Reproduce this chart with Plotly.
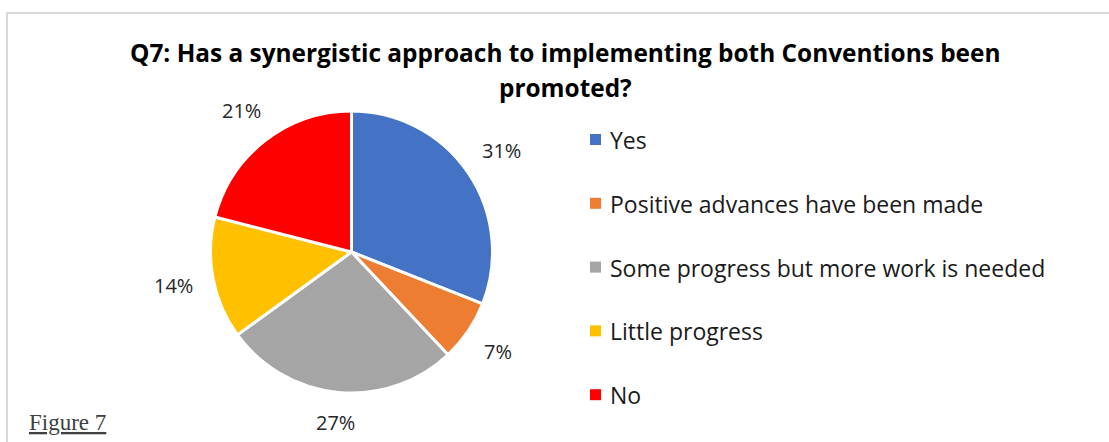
import math
import plotly.graph_objects as go

# Survey responses (percent of respondents)
categories = [
    "Yes",
    "Positive advances have been made",
    "Some progress but more work is needed",
    "Little progress",
    "No",
]
shares = [31, 7, 27, 14, 21]
colors = ["#4472C4", "#ED7D31", "#A5A5A5", "#FFC000", "#FF0000"]
title_lines = [
    "Q7: Has a synergistic approach to implementing both Conventions been",
    "promoted?",
]

W, H = 1109, 442
FONT = "Open Sans, Lato, sans-serif"
LABEL_SIZE = 20

# Pie placement (pixels)
cx, cy, r = 351.5, 252.0, 141.0
dom_x = [(cx - r) / W, (cx + r) / W]
dom_y = [(H - (cy + r)) / H, (H - (cy - r)) / H]

fig = go.Figure()
fig.add_trace(go.Pie(
    labels=categories,
    values=shares,
    sort=False,
    direction="clockwise",
    rotation=0,
    marker=dict(colors=colors, line=dict(color="white", width=3)),
    textinfo="none",
    hoverinfo="label+percent",
    domain=dict(x=dom_x, y=dom_y),
    showlegend=False,
))


def text_half_extent(txt, size):
    # rough glyph widths for digits and the percent sign
    w = sum(0.57 * size if ch.isdigit() else 0.82 * size for ch in txt)
    return w / 2, 0.45 * size


# Percentage labels placed outside each slice, a fixed gap from the rim
annotations = []
total = sum(shares)
cum = 0
gap = 19
for v in shares:
    mid = (cum + v / 2) / total * 2 * math.pi
    cum += v
    txt = f"{round(v / total * 100)}%"
    hw, hh = text_half_extent(txt, LABEL_SIZE)
    sx, sy = math.sin(mid), -math.cos(mid)
    d = r + gap + abs(sx) * hw + abs(sy) * hh
    px = cx + d * sx
    py = cy + d * sy
    annotations.append(dict(
        x=px / W, y=(H - py) / H, xref="paper", yref="paper",
        text=txt, showarrow=False,
        font=dict(family=FONT, size=LABEL_SIZE, color="#262626"),
        xanchor="center", yanchor="middle",
    ))

# Legend drawn as square markers with labels
leg_x_marker = 595
leg_x_text = 608
leg_y0 = 140
leg_step = 63.8
shapes = []
for i, (name, col) in enumerate(zip(categories, colors)):
    y = leg_y0 + i * leg_step
    shapes.append(dict(
        type="rect", xref="paper", yref="paper",
        x0=(leg_x_marker - 5) / W, x1=(leg_x_marker + 6) / W,
        y0=(H - (y + 5)) / H, y1=(H - (y - 6)) / H,
        fillcolor=col, line=dict(width=0),
    ))
    annotations.append(dict(
        x=leg_x_text / W, y=(H - y) / H, xref="paper", yref="paper",
        text=name, showarrow=False,
        font=dict(family=FONT, size=23, color="#1a1a1a"),
        xanchor="left", yanchor="middle",
    ))

# Title, two centred lines
for line, ty in zip(title_lines, [52, 88]):
    annotations.append(dict(
        x=565 / W, y=(H - ty) / H, xref="paper", yref="paper",
        text=f"<b>{line}</b>", showarrow=False,
        font=dict(family=FONT, size=24.4, color="#000000"),
        xanchor="center", yanchor="middle",
    ))

# Caption
annotations.append(dict(
    x=27 / W, y=(H - 422) / H, xref="paper", yref="paper",
    text="<u>Figure 7</u>", showarrow=False,
    font=dict(family="Liberation Serif, Times New Roman, serif", size=23, color="#404040"),
    xanchor="left", yanchor="middle",
))

# Chart frame
shapes.append(dict(
    type="rect", xref="paper", yref="paper",
    x0=7 / W, x1=1.05, y0=-0.05, y1=(H - 13) / H,
    line=dict(color="#d9d9d9", width=2), fillcolor="rgba(0,0,0,0)",
    layer="below",
))

fig.update_layout(
    width=W, height=H,
    margin=dict(l=0, r=0, t=0, b=0),
    paper_bgcolor="white",
    plot_bgcolor="white",
    annotations=annotations,
    shapes=shapes,
)

fig.write_html("out.html")
